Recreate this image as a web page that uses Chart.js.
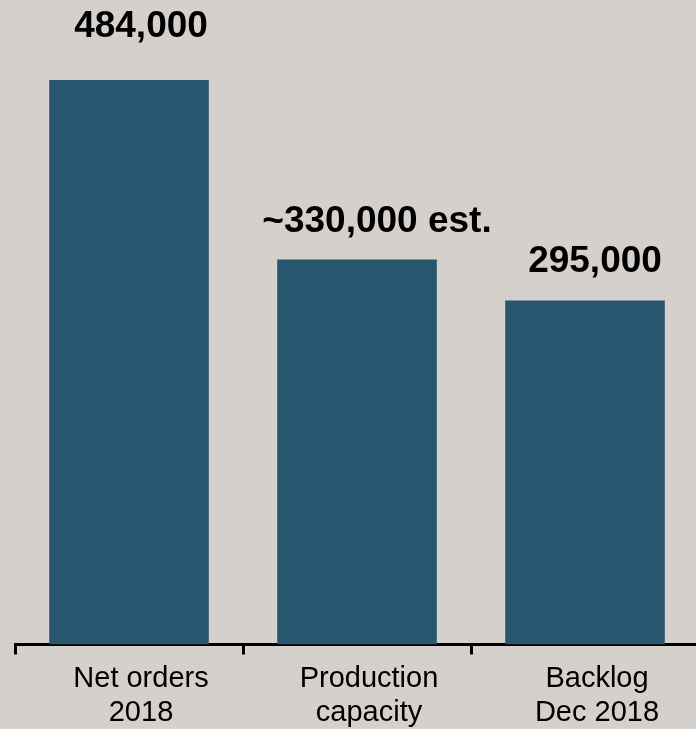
<!DOCTYPE html>
<html>
<head>
<meta charset="utf-8">
<script src="https://cdn.jsdelivr.net/npm/chart.js@4/dist/chart.umd.min.js"></script>
<style>
	body { margin: 0; background: #d5d0cc; overflow: hidden; }
	#wrap { width: 700px; height: 729px; }
</style>
</head>
<body>
<div id="wrap"><canvas id="ordersChart"></canvas></div>
<script>
//ORDERS VS CAPACITY

const orderCategories = [
	["Net orders", "2018"],
	["Production", "capacity"],
	["Backlog", "Dec 2018"],
];
const orderValues = [484000, 330000, 295000];
const orderValueLabels = ["484,000", "~330,000 est.", "295,000"];

// label nudges above each bar: [x shift, gap above bar top]
const valueLabelNudge = [
	[12, 43],
	[20, 28],
	[10, 28],
];

const valueLabelPlugin = {
	id: "valueLabels",
	afterDatasetsDraw(chart) {
		const ctx = chart.ctx;
		const bars = chart.getDatasetMeta(0).data;
		ctx.save();
		ctx.font = "bold 37px 'Liberation Sans', Arial, sans-serif";
		ctx.fillStyle = "#000";
		ctx.textAlign = "center";
		ctx.textBaseline = "alphabetic";
		bars.forEach((bar, i) => {
			ctx.fillText(
				orderValueLabels[i],
				bar.x + valueLabelNudge[i][0],
				bar.y - valueLabelNudge[i][1]
			);
		});
		ctx.restore();
	},
};

const ordersData = {
	labels: orderCategories,
	datasets: [
		{
			label: "Orders",
			backgroundColor: "#28566f",
			borderWidth: 0,
			barPercentage: 0.7,
			categoryPercentage: 1,
			data: orderValues,
		},
	],
};

const ordersConfig = {
	type: "bar",
	data: ordersData,
	options: {
		responsive: true,
		maintainAspectRatio: false,
		animation: false,
		layout: { padding: { top: 80, left: 15, right: 1, bottom: 0 } },
		plugins: {
			legend: { display: false },
			tooltip: { enabled: false },
		},
		scales: {
			x: {
				z: 1,
				afterFit(scale) {
					scale.height = 84.5;
				},
				border: { display: true, color: "#000", width: 3 },
				grid: {
					offset: true,
					drawOnChartArea: false,
					drawTicks: true,
					tickLength: 10,
					tickWidth: 3,
					tickColor: "#000",
					lineWidth: 3,
					color: "#000",
				},
				ticks: {
					color: "#000",
					padding: 8,
					labelOffset: 12,
					font: { family: "'Liberation Sans', Arial, sans-serif", size: 29, lineHeight: 1.15 },
				},
			},
			y: {
				display: false,
				min: 0,
				max: Math.max(...orderValues),
			},
		},
	},
	plugins: [valueLabelPlugin],
};

const OrdersChart = new Chart(
	document.getElementById("ordersChart"),
	ordersConfig
);
</script>
</body>
</html>
